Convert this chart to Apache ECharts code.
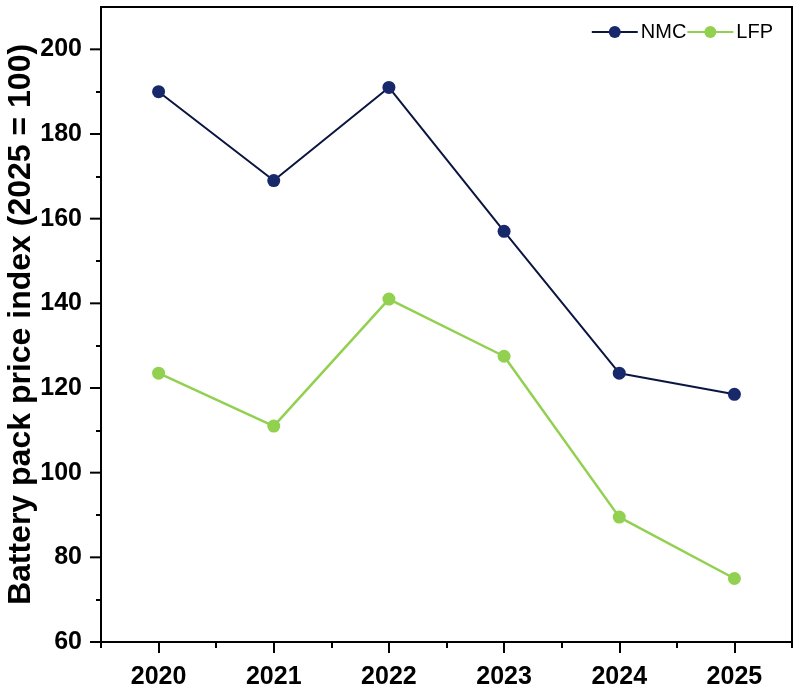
<!DOCTYPE html>
<html>
<head>
<meta charset="utf-8">
<script src="https://cdn.jsdelivr.net/npm/echarts@6/dist/echarts.min.js"></script>
<style>
  html, body { margin: 0; padding: 0; background: #fff; }
  #chart { width: 800px; height: 700px; }
</style>
</head>
<body>
<div id="chart"></div>
<script>
// data
let years = ['2020', '2021', '2022', '2023', '2024', '2025']
let nmc = [190, 169, 191, 157, 123.5, 118.5]
let lfp = [123.5, 111, 141, 127.5, 89.5, 75]
let yLabels = [60, 80, 100, 120, 140, 160, 180, 200]
let yMinorTicks = [70, 90, 110, 130, 150, 170, 190]

let font = 'Liberation Sans, Arial, sans-serif'
let chart = echarts.init(document.getElementById('chart'))

let options = {
  animation: false,
  grid: {
    left: 101,
    right: 8,
    top: 7,
    bottom: 58,
    show: true,
    borderColor: '#000',
    borderWidth: 2,
    outerBoundsMode: 'none'
  },
  legend: {
    right: 27,
    top: 22,
    padding: 0,
    itemWidth: 46,
    itemHeight: 15,
    itemGap: 0,
    textStyle: { fontFamily: font, fontSize: 20, color: '#000', padding: [0, 0, 0, -2] },
    data: ['NMC', 'LFP']
  },
  xAxis: [
    {
      type: 'category',
      data: years,
      boundaryGap: true,
      axisLine: { show: true, lineStyle: { color: '#000', width: 2 } },
      axisTick: { show: true, alignWithLabel: true, length: 11, lineStyle: { color: '#000', width: 2 } },
      axisLabel: { color: '#000', fontFamily: font, fontWeight: 'bold', fontSize: 25, margin: 23 },
      splitLine: { show: false }
    },
    {
      // minor ticks at the category boundaries
      type: 'category',
      data: years,
      position: 'bottom',
      boundaryGap: true,
      axisLine: { show: false },
      axisTick: { show: true, alignWithLabel: false, length: 6, lineStyle: { color: '#000', width: 2 } },
      axisLabel: { show: false },
      splitLine: { show: false }
    }
  ],
  yAxis: [
    {
      type: 'value',
      min: 60,
      max: 210,
      interval: 10,
      name: 'Battery pack price index (2025 = 100)',
      nameLocation: 'middle',
      nameGap: 64,
      nameMoveOverlap: false,
      nameTextStyle: { color: '#000', fontFamily: font, fontWeight: 'bold', fontSize: 32 },
      axisLine: { show: true, lineStyle: { color: '#000', width: 2 } },
      axisTick: { show: false },
      axisLabel: { customValues: yLabels, color: '#000', fontFamily: font, fontWeight: 'bold', fontSize: 25, margin: 19 },
      splitLine: { show: false }
    },
    {
      // minor ticks
      type: 'value',
      min: 60,
      max: 210,
      position: 'left',
      axisLine: { show: false },
      axisTick: { show: true, customValues: yMinorTicks, length: 5, lineStyle: { color: '#000', width: 2 } },
      axisLabel: { show: false },
      splitLine: { show: false }
    }
  ],
  series: [
    {
      name: 'NMC',
      type: 'line',
      data: nmc,
      symbol: 'circle',
      symbolSize: 13,
      lineStyle: { color: '#0b1640', width: 2 },
      itemStyle: { color: '#17286b' }
    },
    {
      name: 'LFP',
      type: 'line',
      data: lfp,
      symbol: 'circle',
      symbolSize: 13,
      lineStyle: { color: '#92d050', width: 2.5 },
      itemStyle: { color: '#92d050' }
    },
    {
      // major y ticks, placed through the y scale
      name: 'yMajorTicks',
      type: 'custom',
      silent: true,
      clip: false,
      z: 10,
      data: yLabels.map(v => [0, v]),
      encode: { x: 0, y: 1 },
      renderItem: (params, api) => {
        let y = api.coord([0, api.value(1)])[1]
        let x0 = params.coordSys.x
        return {
          type: 'line',
          shape: { x1: x0 - 11, y1: y, x2: x0, y2: y },
          style: { stroke: '#000', lineWidth: 2 }
        }
      }
    }
  ]
}

chart.setOption(options)
</script>
</body>
</html>
